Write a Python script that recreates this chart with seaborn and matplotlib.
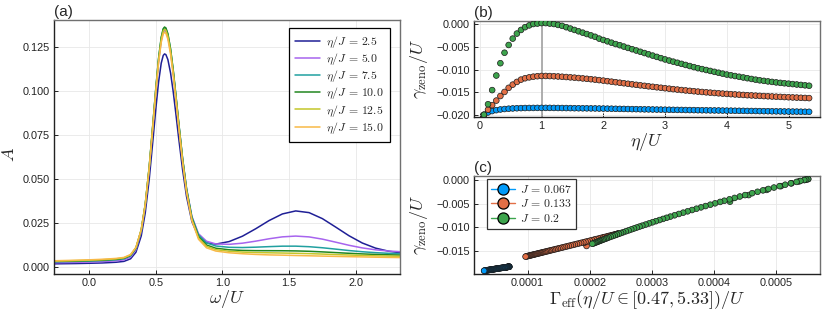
import pandas as pd
import seaborn as sns
import matplotlib.pyplot as plt
from matplotlib.lines import Line2D
from matplotlib.ticker import FuncFormatter

# ---------------- panel (a): spectral function A(omega) ----------------
omega = [-0.30, -0.20, -0.10, 0.00, 0.10, 0.20, 0.26, 0.31, 0.35, 0.39, 0.42, 0.45,
         0.48, 0.50, 0.52, 0.54, 0.555, 0.565, 0.575, 0.59, 0.61, 0.63, 0.65, 0.67,
         0.70, 0.73, 0.77, 0.82, 0.88, 0.95, 1.05, 1.15, 1.25, 1.35, 1.45, 1.55,
         1.65, 1.75, 1.85, 1.95, 2.05, 2.15, 2.25, 2.35]

A_25 = [0.00175, 0.00185, 0.00195, 0.0021, 0.0023, 0.00268, 0.00318, 0.00465, 0.00837,
        0.01769, 0.03075, 0.04999, 0.07391, 0.0904, 0.10512, 0.11593, 0.12034, 0.1212,
        0.1208, 0.11796, 0.11043, 0.09972, 0.08717, 0.07399, 0.05554, 0.04009, 0.02589,
        0.01716, 0.01368, 0.0130, 0.01445, 0.01751, 0.02176, 0.0264, 0.03017, 0.03188,
        0.03092, 0.02751, 0.0227, 0.01777, 0.01363, 0.01071, 0.00893, 0.00795]
A_50 = [0.00237, 0.00249, 0.00263, 0.00281, 0.00306, 0.00349, 0.00405, 0.00568, 0.0098,
        0.0201, 0.03455, 0.0558, 0.08223, 0.10046, 0.11677, 0.12867, 0.13354, 0.1345,
        0.13407, 0.13092, 0.1226, 0.11077, 0.0969, 0.08235, 0.06176, 0.04462, 0.02881,
        0.01891, 0.01465, 0.01311, 0.01288, 0.01353, 0.01469, 0.01604, 0.01713, 0.01757,
        0.01711, 0.01584, 0.01411, 0.01234, 0.01084, 0.00975, 0.00905, 0.00864]
A_75 = [0.00287, 0.00302, 0.00317, 0.00338, 0.00365, 0.0041, 0.00469, 0.00634, 0.01051,
        0.0209, 0.03546, 0.05687, 0.08352, 0.10189, 0.11829, 0.13033, 0.13523, 0.1362,
        0.13571, 0.13246, 0.12398, 0.11196, 0.09788, 0.08311, 0.06216, 0.04473, 0.02855,
        0.01826, 0.01369, 0.01192, 0.01118, 0.01106, 0.01126, 0.01157, 0.01183, 0.01184,
        0.01153, 0.01093, 0.01015, 0.00934, 0.00866, 0.00814, 0.00776, 0.0075]
A_100 = [0.00307, 0.00323, 0.0034, 0.00361, 0.0039, 0.00436, 0.00495, 0.00661, 0.01079,
         0.02118, 0.03574, 0.05716, 0.08381, 0.10218, 0.11858, 0.13062, 0.13553, 0.1365,
         0.13596, 0.13264, 0.12406, 0.11194, 0.09776, 0.0829, 0.06178, 0.04419, 0.0278,
         0.01725, 0.0125, 0.01065, 0.00978, 0.00941, 0.00928, 0.00926, 0.00923, 0.00913,
         0.00892, 0.00858, 0.00818, 0.00778, 0.00742, 0.00714, 0.00692, 0.00675]
A_125 = [0.00327, 0.00344, 0.00362, 0.00384, 0.00414, 0.00461, 0.00521, 0.00685, 0.01097,
         0.02124, 0.03563, 0.0568, 0.08313, 0.10128, 0.11749, 0.12939, 0.13425, 0.1352,
         0.13464, 0.1313, 0.12276, 0.11073, 0.09664, 0.0819, 0.06092, 0.04343, 0.02711,
         0.01651, 0.01171, 0.00986, 0.00893, 0.00847, 0.00821, 0.00806, 0.00793, 0.00778,
         0.00759, 0.00734, 0.00706, 0.00681, 0.00656, 0.00634, 0.00618, 0.00604]
A_150 = [0.00347, 0.00365, 0.00383, 0.00407, 0.00438, 0.00486, 0.00544, 0.00708, 0.01114,
         0.02126, 0.03544, 0.05628, 0.08221, 0.1001, 0.11605, 0.12778, 0.13256, 0.1335,
         0.13291, 0.12958, 0.1211, 0.10919, 0.09526, 0.08066, 0.0599, 0.04258, 0.02637,
         0.01575, 0.0109, 0.00905, 0.00807, 0.00753, 0.00714, 0.00686, 0.00671, 0.00652,
         0.00636, 0.00618, 0.00601, 0.00586, 0.00572, 0.00556, 0.00544, 0.00532]

labels_a = [r"$\eta/J\,=\,2.5$", r"$\eta/J\,=\,5.0$", r"$\eta/J\,=\,7.5$",
            r"$\eta/J\,=\,10.0$", r"$\eta/J\,=\,12.5$", r"$\eta/J\,=\,15.0$"]
colors_a = ["#1f1f96", "#a764ee", "#21a0a0", "#22861f", "#c4c62a", "#f8b947"]

# ---------------- panel (b): gamma_zeno vs eta (units of 1e-4) ----------------
eta = [0.067, 0.133, 0.2, 0.267, 0.333, 0.4, 0.467, 0.533, 0.6, 0.667, 0.733, 0.8, 0.867, 0.933, 1.0,
       1.067, 1.133, 1.2, 1.267, 1.333, 1.4, 1.467, 1.533, 1.6, 1.667, 1.733, 1.8, 1.867, 1.933, 2.0,
       2.067, 2.133, 2.2, 2.267, 2.333, 2.4, 2.467, 2.533, 2.6, 2.667, 2.733, 2.8, 2.867, 2.933, 3.0,
       3.067, 3.133, 3.2, 3.267, 3.333, 3.4, 3.467, 3.533, 3.6, 3.667, 3.733, 3.8, 3.867, 3.933, 4.0,
       4.067, 4.133, 4.2, 4.267, 4.333, 4.4, 4.467, 4.533, 4.6, 4.667, 4.733, 4.8, 4.867, 4.933, 5.0,
       5.067, 5.133, 5.2, 5.267, 5.333]

gz_J067 = [-199, -194, -191, -189, -187.5, -186.5, -185.8, -185.2, -184.8, -184.5, -184.3, -184.2, -184.1, -184.0,
           -184.0, -184.0, -184.0, -184.1, -184.2, -184.3, -184.4, -184.5, -184.7, -184.8, -184.9, -185.0, -185.1,
           -185.2, -185.4, -185.5,
           -185.7, -185.8, -186.0, -186.2, -186.3, -186.5, -186.7, -186.8, -187.0, -187.2, -187.3, -187.5, -187.7,
           -187.8, -188.0,
           -188.1, -188.3, -188.4, -188.5, -188.7, -188.8, -188.9, -189.1, -189.2, -189.3, -189.5, -189.6, -189.7,
           -189.9, -190.0,
           -190.1, -190.3, -190.4, -190.5, -190.7, -190.8, -190.9, -191.1, -191.2, -191.3, -191.5, -191.6, -191.7,
           -191.9, -192.0, -192.1, -192.2, -192.4, -192.5, -192.6]
gz_J133 = [-200, -188, -178, -168, -158, -149, -140, -133, -127, -122, -119, -117, -115.5, -114.5,
           -114, -114, -114.2, -114.6, -115.1, -115.7, -116.3, -117.0, -117.7, -118.5, -119.3, -120.2, -121.1,
           -122.1, -123.1, -124.2,
           -125.35, -126.5, -127.65, -128.8, -129.95, -131.1, -132.25, -133.4, -134.5, -135.6, -136.7, -137.75,
           -138.8, -139.85, -140.9,
           -141.9, -142.9, -143.85, -144.8, -145.7, -146.6, -147.45, -148.3, -149.1, -149.85, -150.6, -151.3,
           -152.0, -152.65, -153.3,
           -153.9, -154.5, -155.05, -155.6, -156.15, -156.65, -157.15, -157.65, -158.1, -158.55, -159.0, -159.45,
           -159.85, -160.25, -160.65, -161.05, -161.45, -161.85, -162.2, -162.55]
gz_J200 = [-199, -176, -145, -113, -86, -63, -46, -32, -21, -13, -7, -3, 0, 1,
           2, 2, 1, 0, -2, -4, -7, -10, -13, -16, -19, -22, -25, -28, -32, -35,
           -38, -41, -44, -46.5, -49.5, -52.4, -55.3, -58.1, -60.9, -63.7, -66.5, -69.3, -72.1, -74.9, -77.7,
           -80.2, -82.6, -85.0, -87.4, -89.8, -92.2, -94.6, -96.9, -98.9, -100.9, -102.9, -104.9, -106.9,
           -108.9, -110.9,
           -112.5, -114.1, -115.7, -117.3, -118.9, -120.5, -122.1, -123.5, -124.7, -125.9, -127.0, -128.1,
           -129.1, -130.0, -130.9, -131.8, -132.7, -133.6, -134.5, -135.4]

# ---------------- panel (c): Gamma_eff for eta/U in [0.47, 5.33] (units of 1e-6) ----------------
first_c = 6  # eta = 0.467
Geff_J067 = [65, 66, 66.7, 68.2, 69.1, 69.6, 70.0, 70.5,
             70.5, 70.5, 70.5, 70.0, 69.6, 69.1, 68.6, 68.2, 67.2, 66.7, 66.3, 65.8, 65.3, 64.9, 63.9, 63.4,
             62.5, 62.0, 61.1, 60.1, 59.7, 58.7, 57.8, 57.3, 56.4, 55.4, 55.0, 54.0, 53.1, 52.6, 51.7,
             51.2, 50.3, 49.8, 49.3, 48.4, 47.9, 47.4, 46.5, 46.0, 45.5, 44.6, 44.1, 43.7, 42.7, 42.2,
             41.8, 40.8, 40.4, 39.9, 38.9, 38.5, 38.0, 37.1, 36.6, 36.1, 35.2, 34.7, 34.2, 33.3, 32.8,
             32.4, 31.9, 30.9, 30.5, 30.0]
Geff_J133 = [195, 191.6, 208, 222.3, 230.5, 236.7, 241.3, 244.4,
             245.9, 245.9, 245.3, 244.1, 242.5, 240.7, 238.8, 236.7, 234.5, 232.1, 229.6, 226.9, 224.1, 221.0,
             218.0, 214.6,
             211.1, 207.5, 204.0, 200.5, 196.9, 193.4, 189.9, 186.3, 183.0, 179.6, 176.2, 173.0, 169.8, 166.5,
             163.3,
             160.2, 157.2, 154.3, 151.3, 148.6, 145.8, 143.2, 140.6, 138.1, 135.8, 133.5, 131.4, 129.2, 127.2,
             125.2,
             123.4, 121.6, 119.9, 118.2, 116.5, 115.0, 113.4, 111.9, 110.5, 109.1, 107.7, 106.4, 105.1, 103.9,
             102.7, 101.5, 100.2, 99.0, 97.9, 96.8]
Geff_J200 = [426, 456, 485, 508, 525, 537, 546, 549,
             551.9, 551.9, 548.7, 545.6, 539.4, 533.2, 524.0, 514.9, 505.8, 496.8, 487.9, 479.1, 470.4, 461.7,
             450.3, 441.9,
             433.4, 425.2, 416.9, 410.1, 402.0, 394.3, 386.6, 379.3, 372.0, 364.9, 357.7, 350.6, 343.6, 336.7,
             329.9,
             323.9, 318.1, 312.4, 306.7, 301.1, 295.6, 290.1, 284.8, 280.3, 275.8, 271.4, 267.0, 262.7, 258.3,
             254.0,
             250.6, 247.2, 243.9, 240.5, 237.2, 233.9, 230.6, 227.7, 225.4, 222.9, 220.7, 218.6, 216.5, 214.8,
             213.0, 211.2, 209.5, 207.8, 206.0, 204.3]

labels_J = [r"$J\,=\,0.067$", r"$J\,=\,0.133$", r"$J\,=\,0.2$"]
colors_J = ["#009afa", "#e26f46", "#3da44d"]

# ---------------- style ----------------
sns.set_style("white")
plt.rcParams["font.family"] = ["Liberation Sans", "DejaVu Sans"]
plt.rcParams["mathtext.fontset"] = "cm"

fig = plt.figure(figsize=(8.3, 3.12), dpi=100)
ax_a = fig.add_axes([0.0651, 0.1218, 0.4168, 0.8141])
ax_b = fig.add_axes([0.5714, 0.6250, 0.4166, 0.3087])
ax_c = fig.add_axes([0.5714, 0.1218, 0.4166, 0.3141])


def fmt(pattern):
    return FuncFormatter(lambda v, pos: (pattern % v).replace("-", "\u2212"))


def style_axis(ax, title):
    ax.grid(True, color="#e8e8e8", lw=0.6)
    ax.set_axisbelow(True)
    for side in ["left", "bottom"]:
        ax.spines[side].set_color("#222222")
        ax.spines[side].set_linewidth(1.0)
    for side in ["top", "right"]:
        ax.spines[side].set_color("#707070")
        ax.spines[side].set_linewidth(1.0)
        ax.spines[side].set_visible(True)
    ax.tick_params(direction="in", length=3, width=0.7, labelsize=7.8, pad=3,
                   bottom=True, left=True, top=False, right=False, colors="#222222")
    ax.set_title(title, loc="left", fontsize=11, pad=3)


# (a)
series_a = [A_25, A_50, A_75, A_100, A_125, A_150]
df_a = pd.concat([pd.DataFrame({"omega": omega, "A": vals, "label": lab})
                  for vals, lab in zip(series_a, labels_a)], ignore_index=True)
sns.lineplot(data=df_a, x="omega", y="A", hue="label", palette=colors_a,
             estimator=None, lw=1.1, ax=ax_a)
ax_a.set_xlim(-0.265, 2.333)
ax_a.set_ylim(-0.004, 0.1405)
ax_a.set_xticks([0.0, 0.5, 1.0, 1.5, 2.0])
ax_a.set_yticks([0.0, 0.025, 0.05, 0.075, 0.1, 0.125])
ax_a.xaxis.set_major_formatter(fmt("%.1f"))
ax_a.yaxis.set_major_formatter(fmt("%.3f"))
ax_a.set_xlabel(r"$\omega/U$", fontsize=13, labelpad=0)
ax_a.set_ylabel(r"$A$", fontsize=13)
ax_a.yaxis.set_label_coords(-0.105, 0.47)
style_axis(ax_a, "(a)")
h, l = ax_a.get_legend_handles_labels()
leg = ax_a.legend(h, l, loc="upper right", bbox_to_anchor=(0.971, 0.9685), fontsize=8.5,
                  frameon=True, fancybox=False, framealpha=1, edgecolor="black",
                  handlelength=2.2, borderpad=0.5, labelspacing=0.1, handletextpad=0.5,
                  borderaxespad=0)
leg.get_frame().set_linewidth(0.9)

# (b)
gz_all = [gz_J067, gz_J133, gz_J200]
df_b = pd.concat([pd.DataFrame({"eta": eta, "gamma": [g * 1e-4 for g in vals], "J": lab})
                  for vals, lab in zip(gz_all, labels_J)], ignore_index=True)
ax_b.axvline(1.0, color="#a8a8a8", lw=1.3, zorder=1)
sns.scatterplot(data=df_b, x="eta", y="gamma", hue="J", palette=colors_J, s=17,
                edgecolor="#1a1a1a", linewidth=0.5, legend=False, ax=ax_b, zorder=3)
ax_b.set_xlim(-0.09, 5.51)
ax_b.set_ylim(-0.0204, 0.00073)
ax_b.set_xticks([0, 1, 2, 3, 4, 5])
ax_b.set_yticks([0.0, -0.005, -0.01, -0.015, -0.02])
ax_b.xaxis.set_major_formatter(fmt("%d"))
ax_b.yaxis.set_major_formatter(fmt("%.3f"))
ax_b.set_xlabel(r"$\eta/U$", fontsize=13, labelpad=0)
ax_b.set_ylabel(r"$\gamma_{\rm zeno}/U$", fontsize=13)
ax_b.yaxis.set_label_coords(-0.128, 0.5)
style_axis(ax_b, "(b)")

# (c)
Geff_all = [Geff_J067, Geff_J133, Geff_J200]
df_c = pd.concat([pd.DataFrame({"G": [x * 1e-6 for x in gv],
                                "gamma": [g * 1e-4 for g in gz[first_c:]], "J": lab})
                  for gv, gz, lab in zip(Geff_all, gz_all, labels_J)], ignore_index=True)
sns.lineplot(data=df_c, x="G", y="gamma", hue="J", palette=colors_J, sort=False,
             estimator=None, lw=1.0, legend=False, ax=ax_c)
sns.scatterplot(data=df_c, x="G", y="gamma", hue="J", palette=colors_J, s=17,
                edgecolor="#1a1a1a", linewidth=0.5, legend=False, ax=ax_c, zorder=3)
ax_c.set_xlim(1.42e-5, 5.71e-4)
ax_c.set_ylim(-0.01995, 0.00085)
ax_c.set_xticks([0.0001, 0.0002, 0.0003, 0.0004, 0.0005])
ax_c.set_yticks([0.0, -0.005, -0.01, -0.015])
ax_c.xaxis.set_major_formatter(fmt("%.4f"))
ax_c.yaxis.set_major_formatter(fmt("%.3f"))
ax_c.set_xlabel(r"$\Gamma_{\rm eff}(\eta/U \in [0.47, 5.33])/U$", fontsize=13, labelpad=0)
ax_c.set_ylabel(r"$\gamma_{\rm zeno}/U$", fontsize=13)
ax_c.yaxis.set_label_coords(-0.128, 0.5)
style_axis(ax_c, "(c)")
handles_c = [Line2D([0], [0], color=c, lw=1.0, marker="o", markersize=8,
                    markerfacecolor=c, markeredgecolor="black", markeredgewidth=0.9)
             for c in colors_J]
leg_c = ax_c.legend(handles_c, labels_J, loc="upper left", bbox_to_anchor=(0.0355, 0.966),
                    fontsize=8.5, frameon=True, fancybox=False, framealpha=1,
                    edgecolor="#333333", handlelength=2.0, borderpad=0.4, labelspacing=0.2,
                    handletextpad=0.4, borderaxespad=0)
leg_c.get_frame().set_linewidth(0.9)

fig.savefig("out.png", dpi=100)
